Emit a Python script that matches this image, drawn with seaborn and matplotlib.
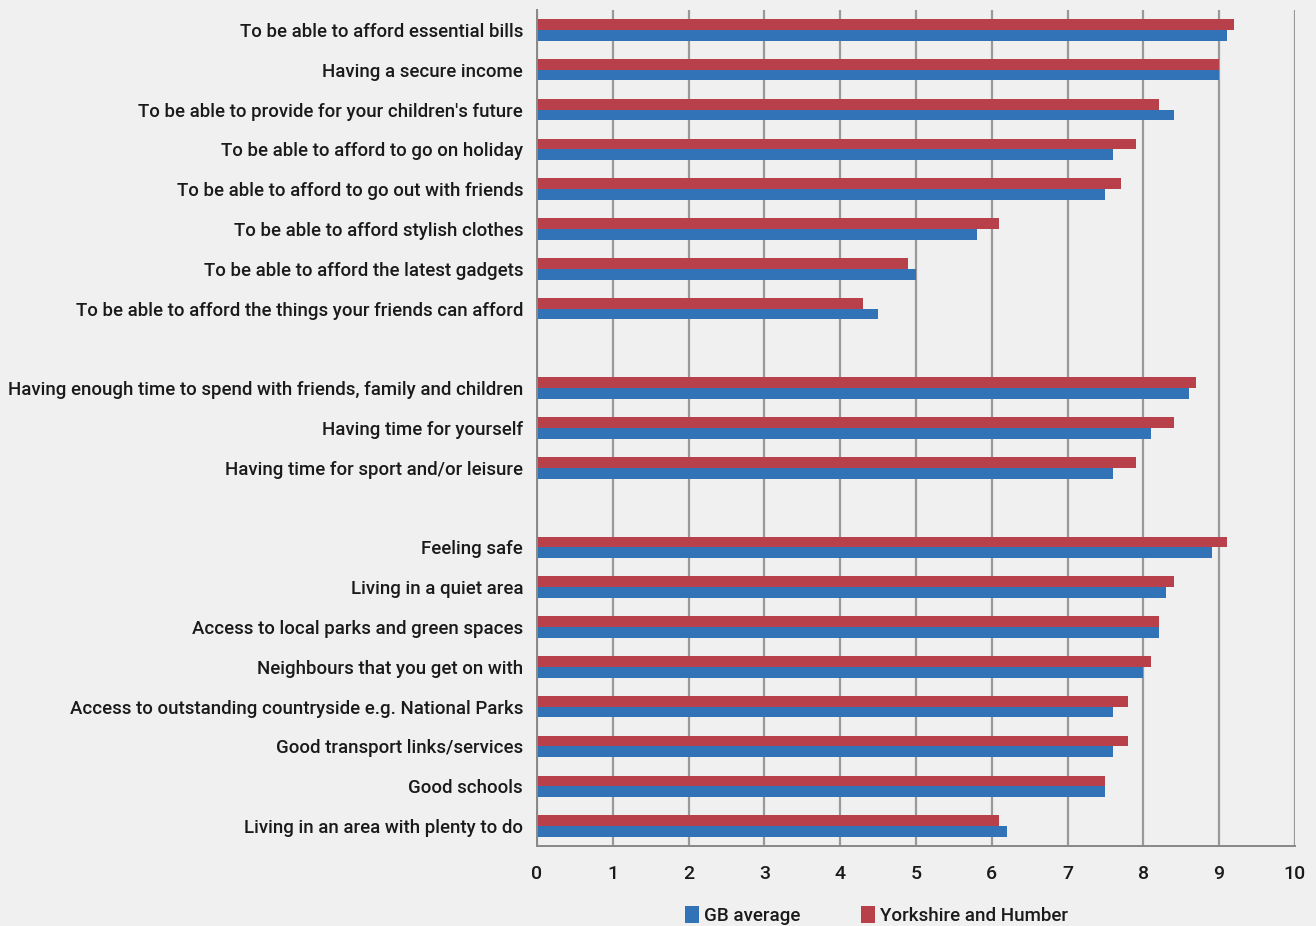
import pandas as pd
import matplotlib
matplotlib.use("Agg")
import matplotlib.pyplot as plt
from matplotlib.patches import Patch
import seaborn as sns

# categories, top to bottom; "" entries are the blank spacer rows
categories = [
    "To be able to afford essential bills",
    "Having a secure income",
    "To be able to provide for your children's future",
    "To be able to afford to go on holiday",
    "To be able to afford to go out with friends",
    "To be able to afford stylish clothes",
    "To be able to afford the latest gadgets",
    "To be able to afford the things your friends can afford",
    "",
    "Having enough time to spend with friends, family and children",
    "Having time for yourself",
    "Having time for sport and/or leisure",
    "",
    "Feeling safe",
    "Living in a quiet area",
    "Access to local parks and green spaces",
    "Neighbours that you get on with",
    "Access to outstanding countryside e.g. National Parks",
    "Good transport links/services",
    "Good schools",
    "Living in an area with plenty to do",
]

gb_average = [9.1, 9.0, 8.4, 7.6, 7.5, 5.8, 5.0, 4.5,
              None,
              8.6, 8.1, 7.6,
              None,
              8.9, 8.3, 8.2, 8.0, 7.6, 7.6, 7.5, 6.2]
yorkshire = [9.2, 9.0, 8.2, 7.9, 7.7, 6.1, 4.9, 4.3,
             None,
             8.7, 8.4, 7.9,
             None,
             9.1, 8.4, 8.2, 8.1, 7.8, 7.8, 7.5, 6.1]

series_names = ["GB average", "Yorkshire and Humber"]
colors = {"GB average": "#3273b8", "Yorkshire and Humber": "#b8404a"}
x_ticks = list(range(0, 11))

# unique keys so the two spacer rows stay separate
keys = [f"{i:02d}" for i in range(len(categories))]

rows = []
for k, g, y in zip(keys, gb_average, yorkshire):
    if g is not None:
        rows.append({"key": k, "series": "GB average", "value": g})
        rows.append({"key": k, "series": "Yorkshire and Humber", "value": y})
df = pd.DataFrame(rows)

sns.set_style("white")
plt.rcParams["font.family"] = ["Roboto", "DejaVu Sans"]
plt.rcParams["font.weight"] = "medium"
bg = "#f0f0f0"
txt = "#1a1a1a"

fig = plt.figure(figsize=(13.16, 9.26), dpi=100, facecolor=bg)
ax = fig.add_axes([0.408, 0.0864, 0.576, 0.9028])
ax.set_facecolor(bg)

sns.barplot(data=df, y="key", x="value", hue="series", order=keys,
            hue_order=["Yorkshire and Humber", "GB average"],
            palette=colors, orient="h", width=0.54, saturation=1,
            linewidth=0, errorbar=None, legend=False, ax=ax)

ax.set_xlim(0, 10)
ax.set_ylim(len(keys) - 0.5, -0.5)
ax.set_xticks(x_ticks)
ax.set_xticklabels([str(t) for t in x_ticks], fontsize=14, color=txt)
ax.set_yticks(range(len(keys)))
ax.set_yticklabels(categories, fontsize=13.4, color=txt)
ax.set_yticks([i - 0.5 for i in range(len(keys) + 1)], minor=True)
ax.tick_params(axis="y", which="major", length=0, pad=10)
ax.tick_params(axis="y", which="minor", length=5, width=1.2, color="#888888", direction="out")
ax.tick_params(axis="x", length=6, width=1.2, color="#888888", direction="out", pad=8)
ax.set_xlabel("")
ax.set_ylabel("")

ax.grid(axis="x", color="#999999", linewidth=1.6)
ax.grid(axis="y", visible=False)
ax.set_axisbelow(True)
for side in ["top", "right"]:
    ax.spines[side].set_visible(False)
for side in ["left", "bottom"]:
    ax.spines[side].set_color("#888888")
    ax.spines[side].set_linewidth(1.4)

handles = [Patch(facecolor=colors[n], edgecolor="none", label=n) for n in series_names]
fig.legend(handles=handles, loc="center", bbox_to_anchor=(0.666, 0.011), ncol=2,
           frameon=False, fontsize=13.5, handlelength=0.75, handleheight=1.0,
           handletextpad=0.3, columnspacing=3.2, labelcolor=txt)

fig.savefig("out.png", dpi=100, facecolor=bg)
